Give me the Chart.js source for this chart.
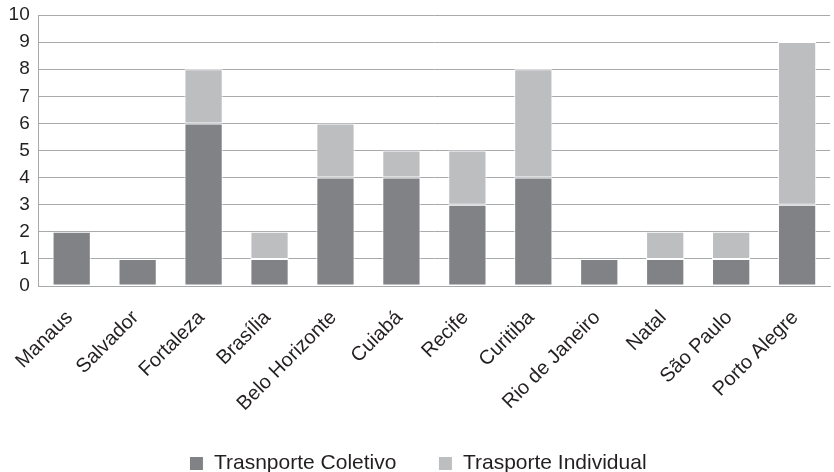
<!DOCTYPE html>
<html>
<head>
<meta charset="utf-8">
<script src="https://cdn.jsdelivr.net/npm/chart.js@4/dist/chart.umd.min.js"></script>
<style>
  html, body { margin: 0; padding: 0; background: #ffffff; }
  #wrap { width: 834px; height: 472px; }
</style>
</head>
<body>
<div id="wrap"><canvas id="chart" width="834" height="472"></canvas></div>
<script>
// Cities on the horizontal axis
const cities = ['Manaus', 'Salvador', 'Fortaleza', 'Brasília', 'Belo Horizonte', 'Cuiabá',
  'Recife', 'Curitiba', 'Rio de Janeiro', 'Natal', 'São Paulo', 'Porto Alegre'];

// Stacked counts per city
const coletivo   = [2, 1, 6, 1, 4, 4, 3, 4, 1, 1, 1, 3];
const individual = [0, 0, 2, 1, 2, 1, 2, 4, 0, 1, 1, 6];

const seriesNames = ['Trasnporte Coletivo', 'Trasporte Individual'];

// Value axis range
const yMin = 0, yMax = 10, yStep = 1;

const gridGray = '#a7a9ac';
const textColor = '#231f20';
const fontFamily = 'Arial, "Liberation Sans", Helvetica, sans-serif';

new Chart(document.getElementById('chart'), {
  type: 'bar',
  data: {
    labels: cities,
    datasets: [
      {
        label: seriesNames[0],
        data: coletivo,
        backgroundColor: '#808285',
        borderColor: '#ffffff',
        borderWidth: 1,
        borderSkipped: false,
        categoryPercentage: 1,
        barPercentage: 0.58
      },
      {
        label: seriesNames[1],
        data: individual,
        backgroundColor: '#bcbec0',
        borderColor: '#ffffff',
        borderWidth: 1,
        borderSkipped: false,
        categoryPercentage: 1,
        barPercentage: 0.58
      }
    ]
  },
  options: {
    responsive: false,
    animation: false,
    layout: { padding: { top: 15, left: 0, right: -2, bottom: 0 } },
    scales: {
      x: {
        stacked: true,
        grid: { display: false, drawTicks: false },
        border: { display: true, color: gridGray, width: 1 },
        ticks: {
          autoSkip: false,
          minRotation: 45,
          maxRotation: 45,
          padding: 20,
          labelOffset: -2,
          color: textColor,
          font: { family: fontFamily, size: 20 }
        },
        afterFit: (scale) => { scale.height = 125; }
      },
      y: {
        stacked: true,
        min: yMin,
        max: yMax,
        grid: { color: gridGray, lineWidth: 1, drawTicks: false },
        border: { display: true, color: gridGray, width: 1 },
        ticks: {
          stepSize: yStep,
          padding: 9,
          color: textColor,
          font: { family: fontFamily, size: 19 }
        },
        afterFit: (scale) => {
          scale.width = 37;
          scale.paddingTop = 4;
          scale.paddingBottom = 4;
        }
      }
    },
    plugins: {
      tooltip: { enabled: false },
      legend: {
        position: 'bottom',
        maxHeight: 61,
        labels: {
          boxWidth: 14,
          boxHeight: 14,
          padding: 42,
          color: textColor,
          font: { family: fontFamily, size: 21 }
        }
      }
    }
  }
});
</script>
</body>
</html>
